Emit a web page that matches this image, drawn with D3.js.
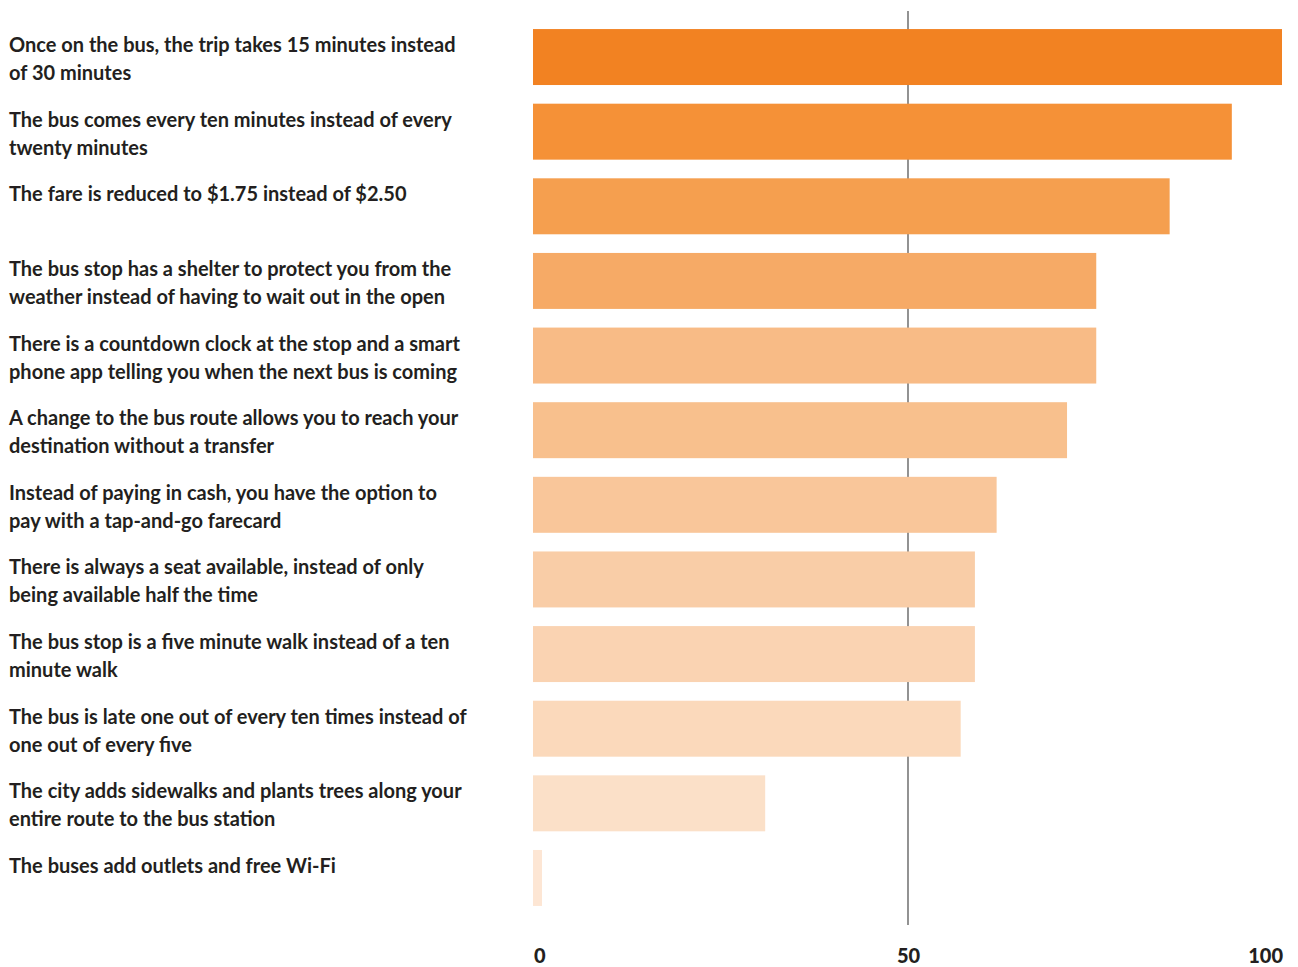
<!DOCTYPE html>
<html>
<head>
<meta charset="utf-8">
<script src="https://cdn.jsdelivr.net/npm/d3@7"></script>
<style>
  html, body { margin: 0; padding: 0; background: #fff; }
  svg text { font-family: Lato, "Open Sans", sans-serif; font-weight: 700; fill: #231f20; }
</style>
</head>
<body>
<div id="chart"></div>
<script>
// labels, one array entry per line of text
var labels = [
  ['Once on the bus, the trip takes 15 minutes instead', 'of 30 minutes'],
  ['The bus comes every ten minutes instead of every', 'twenty minutes'],
  ['The fare is reduced to $1.75 instead of $2.50'],
  ['The bus stop has a shelter to protect you from the', 'weather instead of having to wait out in the open'],
  ['There is a countdown clock at the stop and a smart', 'phone app telling you when the next bus is coming'],
  ['A change to the bus route allows you to reach your', 'destination without a transfer'],
  ['Instead of paying in cash, you have the option to', 'pay with a tap-and-go farecard'],
  ['There is always a seat available, instead of only', 'being available half the time'],
  ['The bus stop is a five minute walk instead of a ten', 'minute walk'],
  ['The bus is late one out of every ten times instead of', 'one out of every five'],
  ['The city adds sidewalks and plants trees along your', 'entire route to the bus station'],
  ['The buses add outlets and free Wi-Fi']
];
var values = [100, 93.3, 85, 75.2, 75.2, 71.3, 61.9, 59, 59, 57.1, 31, 1.2];
var tickValues = [0, 50, 100];

var colors = ['#F28222', '#F59137', '#F59F4F', '#F6AA66', '#F8BB86', '#F8C08D',
              '#F9C69A', '#F9CDA7', '#FAD3B2', '#FBD9BB', '#FBE0C8', '#FDE6D4'];

var width = 1298, height = 967;

var svg = d3.select('#chart').append('svg')
    .attr('width', width)
    .attr('height', height);

var x = d3.scaleLinear().domain([0, 100]).range([533, 1282]);

var y = d3.scaleBand()
    .domain(d3.range(values.length))
    .range([10.4, 924.6])
    .paddingInner(0.25)
    .paddingOuter(0.25);

// reference line at 50 (behind the bars)
svg.append('line')
    .attr('x1', x(50) + 0.5).attr('x2', x(50) + 0.5)
    .attr('y1', 11).attr('y2', 925)
    .attr('stroke', '#4a4a4a')
    .attr('stroke-width', 1.2);

svg.selectAll('rect.bar')
  .data(values)
  .enter()
  .append('rect')
  .attr('class', 'bar')
  .attr('x', x(0))
  .attr('y', function(d, i) { return y(i); })
  .attr('width', function(d) { return x(d) - x(0); })
  .attr('height', y.bandwidth())
  .attr('fill', function(d, i) { return colors[i]; });

// category labels
var lab = svg.selectAll('text.label')
  .data(labels)
  .enter()
  .append('text')
  .attr('class', 'label')
  .attr('x', 9)
  .attr('y', function(d, i) { return y(i) + 23; })
  .style('font-size', '20px');

lab.each(function(d) {
  for (var i = 0; i < d.length; i++) {
    d3.select(this).append('tspan')
      .attr('x', 9)
      .attr('dy', i ? 28 : 0)
      .text(d[i]);
  }
});

// axis tick labels
svg.selectAll('text.tick')
  .data(tickValues)
  .enter()
  .append('text')
  .attr('class', 'tick')
  .attr('x', function(d) { return d === 0 ? x(d) + 1 : (d === 100 ? x(d) + 1 : x(d) + 1); })
  .attr('y', 963)
  .attr('text-anchor', function(d) { return d === 0 ? 'start' : (d === 100 ? 'end' : 'middle'); })
  .style('font-size', '20px')
  .style('font-weight', 900)
  .text(function(d) { return d; });
</script>
</body>
</html>
